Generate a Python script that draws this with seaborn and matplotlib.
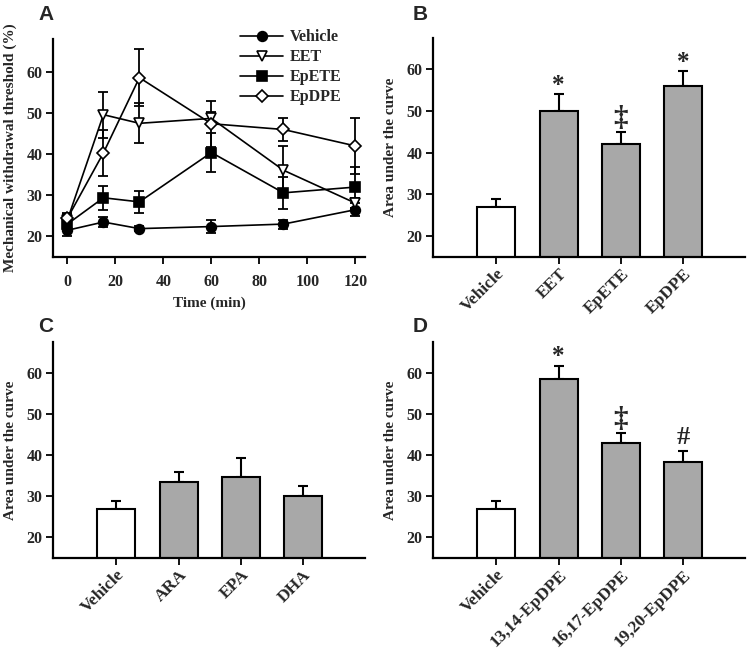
import numpy as np
import pandas as pd
import matplotlib
matplotlib.use("Agg")
import matplotlib.pyplot as plt
import seaborn as sns

# ---------------- data ----------------
time_min = [0, 15, 30, 60, 90, 120]
vehicle_A = [21.5, 23.5, 21.9, 22.4, 23.0, 26.5]
vehicle_A_err = [1.3, 1.3, 0.7, 1.5, 1.1, 1.6]
eet_A = [24.0, 49.6, 47.5, 48.7, 36.1, 28.1]
eet_A_err = [1.5, 5.6, 4.9, 1.5, 5.8, 1.2]
epete_A = [23.0, 29.4, 28.4, 40.4, 30.6, 32.0]
epete_A_err = [1.2, 2.9, 2.7, 4.8, 3.9, 5.0]
epdpe_A = [24.4, 40.3, 58.6, 47.4, 46.0, 42.0]
epdpe_A_err = [1.3, 5.5, 6.9, 5.6, 2.9, 6.9]
series_A = ["Vehicle", "EET", "EpETE", "EpDPE"]

cats_B = ["Vehicle", "EET", "EpETE", "EpDPE"]
vals_B = [27.0, 50.0, 42.0, 56.0]
errs_B = [1.9, 4.0, 3.0, 3.5]
marks_B = ["", "*", "\u2021", "*"]

cats_C = ["Vehicle", "ARA", "EPA", "DHA"]
vals_C = [27.0, 33.5, 34.7, 30.0]
errs_C = [1.9, 2.5, 4.6, 2.6]

cats_D = ["Vehicle", "13,14-EpDPE", "16,17-EpDPE", "19,20-EpDPE"]
vals_D = [27.0, 58.6, 42.9, 38.3]
errs_D = [1.9, 3.0, 2.4, 2.8]
marks_D = ["", "*", "\u2021", "#"]

yticks = [20, 30, 40, 50, 60]
xticks_A = [0, 20, 40, 60, 80, 100, 120]

# ---------------- style ----------------
sns.set_style("ticks")
plt.rcParams["font.family"] = ["Liberation Serif", "DejaVu Serif"]
plt.rcParams["font.weight"] = "bold"
plt.rcParams["axes.labelweight"] = "bold"

W, H = 747, 654
fig = plt.figure(figsize=(W / 100, H / 100), dpi=100)


def px_axes(left, top, right, bottom):
    return fig.add_axes([left / W, 1 - bottom / H, (right - left) / W, (bottom - top) / H])


def style_axes(ax):
    for s in ["top", "right"]:
        ax.spines[s].set_visible(False)
    for s in ["left", "bottom"]:
        ax.spines[s].set_linewidth(1.6)
        ax.spines[s].set_color("black")
    ax.tick_params(direction="out", length=5, width=1.3, color="black", pad=2.5)


TICKFONT = dict(fontsize=11.5, fontweight="bold")
XCATFONT = dict(fontsize=12.5, fontweight="bold")
LABELFONT = dict(fontsize=11, fontweight="bold")

# ---------------- panel A ----------------
axA = px_axes(53, 39, 365, 257)
dfA = pd.DataFrame({
    "time": time_min * 4,
    "value": vehicle_A + eet_A + epete_A + epdpe_A,
    "series": sum([[s] * len(time_min) for s in series_A], []),
})
errA = {"Vehicle": vehicle_A_err, "EET": eet_A_err, "EpETE": epete_A_err, "EpDPE": epdpe_A_err}
mk = {"Vehicle": ("o", "black"), "EET": ("v", "white"), "EpETE": ("s", "black"), "EpDPE": ("D", "white")}
msz = {"Vehicle": 7, "EET": 7.5, "EpETE": 6.5, "EpDPE": 6.5}
for s in series_A:
    d = dfA[dfA["series"] == s]
    axA.errorbar(d["time"], d["value"], yerr=errA[s], fmt="none", ecolor="black",
                 elinewidth=1.3, capsize=3.5, capthick=1.3, zorder=2)
for s in series_A:
    d = dfA[dfA["series"] == s]
    sns.lineplot(data=d, x="time", y="value", ax=axA, color="black", linewidth=1.2,
                 marker=mk[s][0], markersize=msz[s], markerfacecolor=mk[s][1],
                 markeredgecolor="black", markeredgewidth=1.2, label=s, zorder=3)
axA.set_xlim(-6, 124)
axA.set_ylim(15, 68)
axA.set_xticks(xticks_A)
axA.set_yticks(yticks)
axA.set_xticklabels([str(t) for t in xticks_A], **TICKFONT)
axA.set_yticklabels([str(t) for t in yticks], **TICKFONT)
axA.set_xlabel("Time (min)", labelpad=5, **LABELFONT)
axA.set_ylabel("Mechanical withdrawal threshold (%)", labelpad=7, **LABELFONT)
style_axes(axA)
axA.tick_params(axis="x", pad=7)
leg = axA.legend(loc="upper left", bbox_to_anchor=(0.6, 1.045), frameon=False,
                 prop=dict(family="Liberation Serif", weight="bold", size=11.5),
                 handlelength=2.7, handletextpad=0.4, labelspacing=0.25,
                 borderpad=0, borderaxespad=0)


# ---------------- bar panels ----------------
def bar_panel(ax, cats, vals, errs, marks=None, mark_y=None):
    colors = ["white"] + ["#a8a8a8"] * (len(cats) - 1)
    sns.barplot(x=cats, y=vals, hue=cats, palette=colors, legend=False, order=cats,
                hue_order=cats, edgecolor="black", linewidth=1.5, width=0.61,
                ax=ax, saturation=1, zorder=2)
    xs = np.arange(len(cats))
    ax.errorbar(xs, vals, yerr=[np.zeros(len(errs)), errs], fmt="none", ecolor="black",
                elinewidth=1.5, capsize=3.5, capthick=1.5, zorder=1)
    ax.set_xlim(-1.02, 4.0)
    ax.set_ylim(15, 67.5)
    ax.set_yticks(yticks)
    ax.set_yticklabels([str(t) for t in yticks], **TICKFONT)
    ax.set_xticks(xs)
    ax.set_xticklabels(cats, rotation=45, ha="right", va="top",
                       rotation_mode="anchor", **XCATFONT)
    ax.set_xlabel("")
    ax.set_ylabel("Area under the curve", labelpad=7, **LABELFONT)
    style_axes(ax)
    ax.tick_params(axis="x", pad=1.5)
    if marks:
        for i, (m, y) in enumerate(zip(marks, mark_y)):
            if m:
                fs = {"*": 18, "\u2021": 21, "#": 19}[m]
                ax.text(xs[i], y, m, ha="center", va="center", fontsize=fs,
                        fontweight="bold", family=["Liberation Serif", "DejaVu Serif"])


axB = px_axes(433, 38, 745, 257)
bar_panel(axB, cats_B, vals_B, errs_B, marks_B, [0, 56.0, 48.3, 61.6])
axC = px_axes(53, 342, 365, 558)
bar_panel(axC, cats_C, vals_C, errs_C)
axD = px_axes(433, 342, 745, 558)
bar_panel(axD, cats_D, vals_D, errs_D, marks_D, [0, 63.9, 48.7, 44.4])

# panel letters
for lab, x, y in [("A", 38, 14), ("B", 413, 14), ("C", 38, 326), ("D", 413, 326)]:
    fig.text(x / W, 1 - y / H, lab, fontsize=15, fontweight="bold",
             family="Liberation Sans", ha="left", va="center")

fig.savefig("out.png", dpi=100)
